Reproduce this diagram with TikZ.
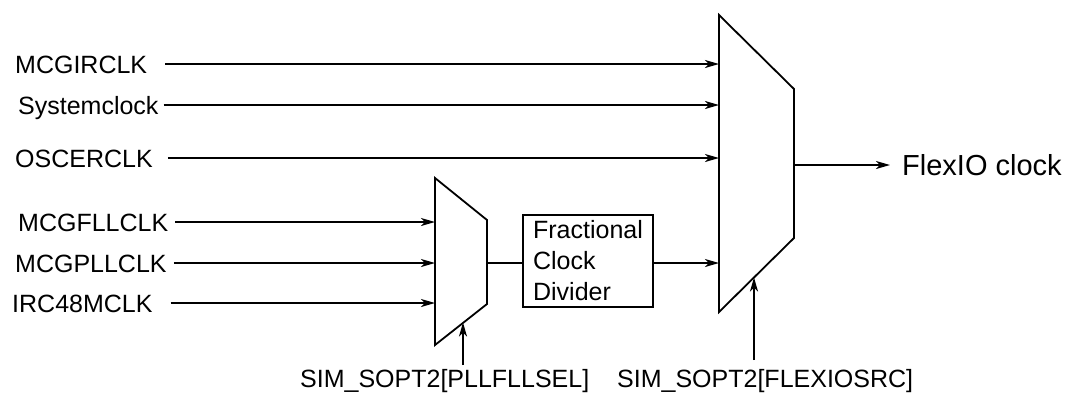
\documentclass[tikz,border=0pt]{standalone}
\usepackage{fontspec}
\setmainfont{Liberation Sans}
\usetikzlibrary{arrows.meta}
\begin{document}
\begin{tikzpicture}[x=1pt,y=-1pt,
  lbl/.style={anchor=west,inner sep=0pt,font=\fontsize{25}{31}\selectfont,text height=18pt,text depth=0pt},
  biglbl/.style={lbl,font=\fontsize{29}{35}\selectfont,text height=21pt},
  shape line/.style={line width=1.8pt,line join=miter},
  conn/.style={line width=1.8pt},
  arr/.style={conn,-{Stealth[length=14pt,width=8pt,inset=4pt]}},
  divbox/.style={draw,line width=2pt,minimum width=130pt,minimum height=92pt,inner sep=0pt,align=left,font=\fontsize{25}{31}\selectfont}]
\useasboundingbox (0,0) rectangle (1068,400);
% big mux
\draw[shape line] (719,15) -- (794,89) -- (794,238) -- (719,312) -- cycle;
\coordinate (B1) at (719,64);
\coordinate (B2) at (719,105);
\coordinate (B3) at (719,158);
\coordinate (B4) at (719,263);
\coordinate (Bout) at (794,165);
\coordinate (Bsel) at (754,277.5);
% small mux
\draw[shape line] (435,178) -- (487,220) -- (487,304) -- (435,345) -- cycle;
\coordinate (S1) at (435,222);
\coordinate (S2) at (435,263);
\coordinate (S3) at (435,303);
\coordinate (Sout) at (487,263);
\coordinate (Ssel) at (463,322.5);
% divider
\node[divbox] (div) at (588,261) {Fractional\\Clock\\Divider};
% labels
\node[lbl] (l1) at (15,64) {MCGIRCLK};
\node[lbl] (l2) at (18,105) {Systemclock};
\node[lbl] (l3) at (15,158) {OSCERCLK};
\node[lbl] (l4) at (18,222) {MCGFLLCLK};
\node[lbl] (l5) at (15,263) {MCGPLLCLK};
\node[lbl] (l6) at (12,303) {IRC48MCLK};
\node[biglbl] (out) at (902,165) {FlexIO clock};
\node[lbl] (sel1) at (300,378) {SIM\_SOPT2[PLLFLLSEL]};
\node[lbl] (sel2) at (617,378) {SIM\_SOPT2[FLEXIOSRC]};
\coordinate (sel1top) at (463,365);
\coordinate (sel2top) at (754,360);
% connectors
\draw[arr] ([xshift=18pt]l1.east) -- (B1);
\draw[arr] ([xshift=5pt]l2.east) -- (B2);
\draw[arr] ([xshift=15pt]l3.east) -- (B3);
\draw[arr] ([xshift=7pt]l4.east) -- (S1);
\draw[arr] ([xshift=7pt]l5.east) -- (S2);
\draw[arr] ([xshift=18pt]l6.east) -- (S3);
\draw[conn] (Sout) -- (Sout -| div.west);
\draw[arr] (B4 -| div.east) -- (B4);
\draw[arr,shorten >=12pt] (Bout) -- (Bout -| out.west);
\draw[arr] (sel1top) -- (Ssel);
\draw[arr] (sel2top) -- (Bsel);
\end{tikzpicture}
\end{document}
